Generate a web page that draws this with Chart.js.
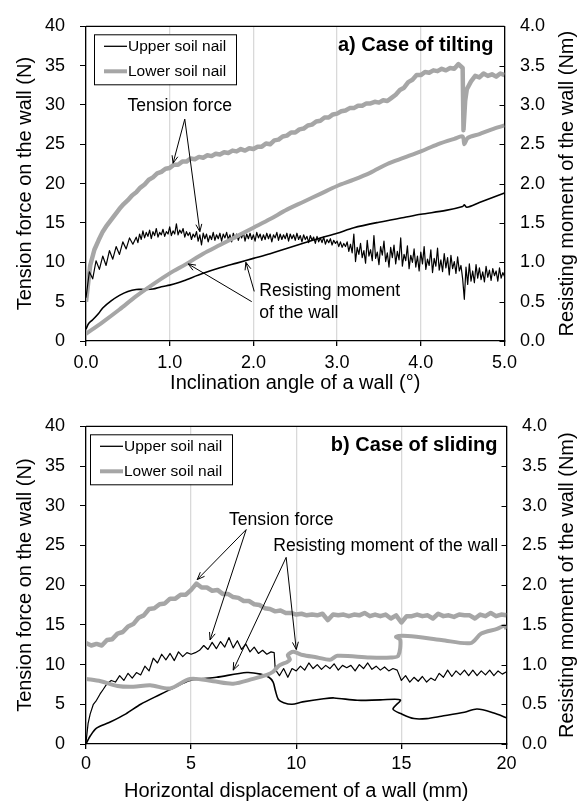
<!DOCTYPE html>
<html><head><meta charset="utf-8">
<script src="https://cdn.jsdelivr.net/npm/chart.js@4.4.0/dist/chart.umd.min.js"></script>
<style>
html,body{margin:0;padding:0;background:#fff;}
#wrap{position:relative;width:585px;height:804px;}
.box{position:absolute;left:0;width:585px;}
</style></head><body>
<div id="wrap">
<div class="box" style="top:0;height:400px"><canvas id="c1"></canvas></div>
<div class="box" style="top:400px;height:404px"><canvas id="c2"></canvas></div>
</div>
<script>
// ---------- labels ----------
const seriesNames = ['Upper soil nail', 'Lower soil nail'];
const tiltTitle = 'a) Case of tilting';
const slideTitle = 'b) Case of sliding';
const tiltXTitle = 'Inclination angle of a wall (\u00B0)';
const slideXTitle = 'Horizontal displacement of a wall (mm)';
const leftTitle = 'Tension force on the wall (N)';
const rightTitle = 'Resisting moment of the wall (Nm)';
const tiltXTicks = [0, 1, 2, 3, 4, 5];
const slideXTicks = [0, 5, 10, 15, 20];
const forceTicks = [0, 5, 10, 15, 20, 25, 30, 35, 40];
const momentTicks = [0, 0.5, 1, 1.5, 2, 2.5, 3, 3.5, 4];

// ---------- a) tilting : [angle (deg), value] ----------
const tiltUpperTension = [[0,5.5],[0.04,8.8],[0.08,7.9],[0.12,10.2],[0.16,9.1],[0.2,10.8],[0.24,9.6],[0.28,11.5],[0.32,10.4],[0.36,12.0],[0.4,11.0],[0.44,12.6],[0.48,11.7],[0.52,13.1],[0.56,12.3],
 [0.60,13.2],[0.62,12.5],[0.64,13.6],[0.66,12.9],[0.68,14.0],[0.70,13.1],[0.72,13.8],[0.74,13.3],[0.76,14.1],[0.78,13.0],[0.80,13.9],[0.82,13.4],[0.84,14.3],[0.86,13.2],[0.88,13.8],[0.90,13.5],[0.92,14.2],[0.94,13.3],[0.96,13.9],[0.98,13.6],[1.00,14.5],[1.02,13.4],[1.04,14.0],[1.06,13.6],[1.08,14.9],[1.10,13.5],[1.12,14.1],[1.14,13.7],[1.16,14.3],[1.18,13.2],[1.20,13.9],[1.22,13.4],[1.24,13.8],[1.26,12.9],[1.28,13.6],[1.30,13.2],[1.32,13.9],[1.34,12.7],[1.36,13.5],[1.38,12.2],[1.40,13.7],[1.42,13.0],[1.44,13.6],[1.46,12.6],[1.48,13.4],[1.50,12.9],[1.52,13.8],[1.54,12.8],[1.56,13.5],[1.58,13.0],[1.60,13.7],[1.62,12.7],[1.64,13.6],[1.66,13.1],[1.68,13.8],[1.70,12.9],[1.72,13.5],[1.74,12.6],[1.76,13.7],[1.78,13.0],[1.80,13.6],[1.82,12.8],[1.84,13.5],[1.86,13.1],[1.88,13.8],[1.90,12.7],[1.92,13.6],[1.94,13.0],[1.96,13.7],[1.98,12.9],[2.00,13.5],[2.02,12.7],[2.04,13.8],[2.06,13.1],[2.08,13.6],[2.10,12.8],[2.12,13.5],[2.14,12.9],[2.16,13.7],[2.18,13.0],[2.20,13.6],[2.22,12.6],[2.24,13.5],[2.26,13.1],[2.28,13.8],[2.30,12.8],[2.32,13.6],[2.34,12.9],[2.36,13.5],[2.38,13.0],[2.40,13.7],[2.42,12.7],[2.44,13.6],[2.46,13.0],[2.48,13.5],[2.50,12.8],[2.52,13.7],[2.54,12.9],[2.56,13.4],[2.58,12.6],[2.60,13.5],[2.62,12.9],[2.64,13.3],[2.66,12.5],[2.68,13.4],[2.70,12.8],[2.72,13.2],[2.74,12.4],[2.76,13.3],[2.78,12.6],[2.80,13.1],[2.82,12.5],[2.84,13.2],[2.86,12.3],[2.88,12.9],[2.90,12.5],[2.92,13.0],[2.94,12.2],[2.96,12.8],[2.98,12.4],[3.00,12.7],[3.02,12.0],[3.04,12.6],[3.06,11.9],[3.08,12.4],
 [3.10,12.0],[3.12,12.6],[3.14,11.4],[3.16,12.3],[3.18,11.2],[3.20,13.6],[3.22,10.1],[3.24,11.9],[3.26,11.0],[3.28,12.4],[3.30,10.6],[3.32,11.5],[3.34,9.9],[3.36,12.8],[3.38,10.8],[3.40,11.6],[3.42,10.2],[3.44,13.4],[3.46,10.5],[3.48,11.3],[3.50,9.7],[3.52,12.0],[3.54,10.9],[3.56,12.7],[3.58,10.1],[3.60,11.2],[3.62,9.4],[3.64,11.9],[3.66,10.6],[3.68,12.2],[3.70,9.8],[3.72,11.4],[3.74,10.3],[3.76,13.1],[3.78,9.5],[3.80,11.0],[3.82,10.2],[3.84,12.1],[3.86,9.2],[3.88,10.9],[3.90,10.0],[3.92,11.7],[3.94,9.4],[3.96,10.8],[3.98,8.9],[4.00,11.3],[4.02,9.8],[4.04,12.0],[4.06,9.1],[4.08,10.4],[4.10,9.6],[4.12,11.6],[4.14,8.7],[4.16,10.5],[4.18,9.5],[4.20,11.8],[4.22,9.0],[4.24,10.3],[4.26,8.8],[4.28,11.1],[4.30,9.3],[4.32,10.6],[4.34,8.4],[4.36,10.9],[4.38,9.2],[4.40,10.1],[4.42,8.6],[4.44,10.7],[4.46,8.9],[4.48,9.6],[4.50,7.9],[4.52,5.3],[4.54,9.4],[4.56,7.2],[4.58,9.8],[4.60,7.6],[4.62,8.9],[4.64,7.4],[4.66,9.7],[4.68,8.0],[4.70,9.3],[4.72,7.8],[4.74,8.8],[4.76,7.5],[4.78,9.5],[4.80,8.1],[4.82,9.0],[4.84,7.7],[4.86,9.2],[4.88,8.3],[4.90,8.9],[4.92,7.6],[4.94,9.3],[4.96,8.0],[4.98,8.7],[5.00,8.2]];
const tiltLowerTension = [[0,5.0],[0.05,9.6],[0.1,11.6],[0.15,12.8],[0.2,13.9],[0.25,14.7],[0.3,15.4],[0.35,16.1],[0.4,16.8],[0.45,17.4],[0.5,17.9],[0.55,18.5],[0.6,18.9],[0.65,19.5],[0.7,19.9],[0.75,20.5],[0.8,20.8],[0.85,21.3],[0.9,21.5],[0.95,21.9],[1.0,22.0],[1.05,22.4],[1.1,22.4],[1.15,22.8],[1.2,22.8],[1.25,23.2],[1.3,23.1],[1.35,23.4],[1.4,23.3],[1.45,23.6],[1.5,23.5],[1.55,23.8],[1.6,23.7],[1.65,24.0],[1.7,23.9],[1.75,24.2],[1.8,24.1],[1.85,24.4],[1.9,24.2],[1.95,24.5],[2.0,24.4],[2.05,24.7],[2.1,24.7],[2.15,25.1],[2.2,25.0],[2.25,25.5],[2.3,25.6],[2.35,26.0],[2.4,26.1],[2.45,26.5],[2.5,26.5],[2.55,26.9],[2.6,27.0],[2.65,27.4],[2.7,27.5],[2.75,27.9],[2.8,28.0],[2.85,28.4],[2.9,28.4],[2.95,28.8],[3.0,28.9],[3.05,29.2],[3.1,29.3],[3.15,29.6],[3.2,29.6],[3.25,29.9],[3.3,29.9],[3.35,30.2],[3.4,30.2],[3.45,30.4],[3.5,30.3],[3.55,30.6],[3.6,30.5],[3.65,30.9],[3.7,31.3],[3.75,31.9],[3.8,32.2],[3.85,32.9],[3.9,33.2],[3.95,33.8],[4.0,33.8],[4.05,34.2],[4.1,34.1],[4.15,34.4],[4.2,34.3],[4.25,34.6],[4.3,34.4],[4.35,34.7],[4.4,34.6],[4.45,35.2],[4.5,34.7],[4.51,26.8],[4.53,30.5],[4.55,32.0],[4.6,33.0],[4.65,33.7],[4.7,33.5],[4.75,34.0],[4.8,33.7],[4.85,33.9],[4.9,33.6],[4.95,34.0],[5.0,33.8]];
const tiltUpperMoment = [[0,0.15],[0.03,0.22],[0.08,0.27],[0.15,0.35],[0.2,0.42],[0.3,0.51],[0.4,0.58],[0.5,0.63],[0.6,0.655],[0.7,0.655],[0.8,0.66],[0.9,0.69],[1.0,0.71],[1.1,0.74],[1.2,0.78],[1.4,0.86],[1.6,0.93],[1.8,0.99],[2.0,1.05],[2.2,1.11],[2.5,1.21],[2.8,1.31],[3.0,1.37],[3.2,1.44],[3.5,1.51],[3.8,1.57],[4.0,1.61],[4.3,1.66],[4.5,1.71],[4.52,1.73],[4.55,1.70],[4.7,1.76],[5.0,1.88]];
const tiltLowerMoment = [[0,0.09],[0.2,0.24],[0.4,0.40],[0.6,0.57],[0.8,0.72],[1.0,0.86],[1.2,0.98],[1.4,1.11],[1.6,1.22],[1.8,1.33],[2.0,1.44],[2.2,1.55],[2.4,1.67],[2.6,1.77],[2.8,1.87],[3.0,1.97],[3.2,2.05],[3.4,2.14],[3.6,2.25],[3.8,2.33],[4.0,2.41],[4.2,2.50],[4.4,2.57],[4.5,2.60],[4.52,2.50],[4.56,2.58],[4.7,2.63],[4.85,2.69],[5.0,2.74]];

// ---------- b) sliding : [displacement (mm), value] ----------
const slideUpperTension = [[0,0.2],[0.1,2.6],[0.2,3.8],[0.35,5.0],[0.5,5.5],[0.67,6.3],[0.8,6.8],[1.0,7.6],[1.2,8.0],[1.4,7.8],[1.6,8.6],[1.8,8.0],[2.0,8.9],[2.2,8.3],[2.4,9.0],[2.6,8.7],[2.8,9.8],[3.0,9.2],[3.2,10.8],[3.4,10.2],[3.6,11.3],[3.8,10.6],[4.0,11.4],[4.2,10.5],[4.4,11.6],[4.6,11.0],[4.8,11.5],[5.0,11.3],[5.2,11.5],[5.4,11.8],[5.6,12.4],[5.8,11.9],[6.0,12.8],[6.2,12.0],[6.4,12.9],[6.6,12.2],[6.8,13.4],[7.0,12.1],[7.2,13.0],[7.4,11.9],[7.6,12.6],[7.8,11.6],[8.0,12.2],[8.2,11.4],[8.4,11.8],[8.6,11.3],[8.8,11.6],[8.95,11.5],[9.0,9.4],[9.2,8.6],[9.4,9.5],[9.6,8.4],[9.8,9.5],[10.0,9.2],[10.2,9.8],[10.4,9.3],[10.6,10.2],[10.8,9.5],[11.0,10.0],[11.2,9.4],[11.4,9.9],[11.6,9.5],[11.8,10.1],[12.0,9.3],[12.2,9.9],[12.4,9.6],[12.6,9.9],[12.8,9.2],[13.0,10.0],[13.2,9.5],[13.4,10.2],[13.6,9.4],[13.8,9.8],[14.0,9.3],[14.2,9.7],[14.4,9.2],[14.6,9.5],[14.8,9.3],[15.0,8.0],[15.2,8.6],[15.4,7.8],[15.6,8.4],[15.8,7.9],[16.0,8.5],[16.2,7.8],[16.4,8.3],[16.6,8.0],[16.8,8.9],[17.0,8.4],[17.2,9.3],[17.4,8.5],[17.6,9.2],[17.8,8.7],[18.0,9.3],[18.2,8.6],[18.4,9.3],[18.6,8.6],[18.8,9.2],[19.0,8.7],[19.2,9.3],[19.4,8.6],[19.6,9.2],[19.8,8.8],[20.0,9.1]];
const slideLowerTension = [[0,12.7],[0.25,12.4],[0.5,12.6],[0.75,12.4],[1.0,13.1],[1.25,13.2],[1.5,13.9],[1.75,14.1],[2.0,14.8],[2.25,15.1],[2.5,15.9],[2.75,16.2],[3.0,17.0],[3.25,17.1],[3.5,17.6],[3.75,17.7],[4.0,18.3],[4.25,18.3],[4.5,18.8],[4.75,18.8],[5.0,19.4],[5.25,20.2],[5.5,19.7],[5.75,19.7],[6.0,19.3],[6.25,19.4],[6.5,18.9],[6.75,18.9],[7.0,18.5],[7.25,18.4],[7.5,18.0],[7.75,18.0],[8.0,17.6],[8.25,17.5],[8.5,17.1],[8.75,17.0],[9.0,16.7],[9.25,16.8],[9.5,16.5],[9.75,16.5],[10.0,16.3],[10.25,16.4],[10.5,16.2],[10.75,16.3],[11.0,16.2],[11.25,16.4],[11.5,15.6],[11.75,16.3],[12.0,16.2],[12.25,16.3],[12.5,16.1],[12.75,16.3],[13.0,16.2],[13.25,16.5],[13.5,16.1],[13.75,16.3],[14.0,16.1],[14.25,16.3],[14.5,15.8],[14.75,16.2],[15.0,15.3],[15.25,16.1],[15.5,16.1],[15.75,16.3],[16.0,16.1],[16.25,16.2],[16.5,15.8],[16.75,16.4],[17.0,16.1],[17.25,16.2],[17.5,16.0],[17.75,16.3],[18.0,16.2],[18.25,16.2],[18.5,15.8],[18.75,16.3],[19.0,16.1],[19.25,16.5],[19.5,16.1],[19.75,16.3],[20.0,16.2]];
const slideUpperMoment = [[0,0.0],[0.2,0.1],[0.5,0.2],[1.1,0.27],[1.9,0.38],[2.6,0.5],[3.5,0.62],[4.2,0.71],[4.95,0.8],[6.2,0.84],[7.65,0.9],[8.3,0.88],[8.7,0.84],[8.9,0.78],[9.0,0.68],[9.15,0.56],[9.4,0.52],[9.8,0.50],[10.3,0.53],[11.3,0.57],[11.8,0.58],[12.9,0.55],[14.0,0.555],[14.95,0.555],[14.6,0.44],[15.0,0.38],[15.6,0.32],[16.2,0.32],[16.9,0.35],[18.0,0.40],[18.6,0.44],[19.4,0.39],[20.0,0.33]];
const slideLowerMoment = [[0,0.82],[0.7,0.79],[1.5,0.73],[2.25,0.72],[3.05,0.74],[4.0,0.70],[4.95,0.82],[6.05,0.79],[7.0,0.76],[7.95,0.82],[8.6,0.87],[8.9,0.91],[9.2,0.99],[9.55,1.03],[9.7,1.06],[9.6,1.12],[9.86,1.16],[10.3,1.12],[11.0,1.09],[11.6,1.06],[11.95,1.11],[13.5,1.09],[14.5,1.09],[14.85,1.11],[14.95,1.31],[14.75,1.35],[15.3,1.36],[16.9,1.31],[18.3,1.27],[18.8,1.39],[19.55,1.45],[19.9,1.49],[20.0,1.45]];

// ---------- annotations (data units: x, left-axis N) ----------
const tiltNotes = [['Tension force', 1.12, 29.9, 'center'], ['Resisting moment', 2.07, 6.3, 'left'], ['of the wall', 2.07, 3.6, 'left']];
const tiltArrows = [[1.18, 28.2, 1.04, 22.6], [1.18, 28.2, 1.36, 13.9], [1.98, 5.0, 1.22, 9.8], [2.01, 6.3, 1.91, 10.0]];
const slideNotes = [['Tension force', 9.29, 28.2, 'center'], ['Resisting moment of the wall', 19.6, 24.9, 'right']];
const slideArrows = [[7.62, 27.0, 5.29, 20.7], [7.62, 27.0, 5.9, 13.1], [9.52, 23.5, 7.0, 9.3], [9.52, 23.5, 10.0, 11.9]];

// ---------- drawing ----------
const FONT = '"Liberation Sans", Arial, sans-serif';
const GRAY = '#a6a6a6';
const pts = a => a.map(p => ({x: p[0], y: p[1]}));

function arrow(ctx, x1, y1, x2, y2) {
  const a = Math.atan2(y2 - y1, x2 - x1), L = 8, w = 0.38;
  ctx.beginPath();
  ctx.moveTo(x1, y1); ctx.lineTo(x2, y2);
  ctx.moveTo(x2 - L * Math.cos(a - w), y2 - L * Math.sin(a - w));
  ctx.lineTo(x2, y2);
  ctx.lineTo(x2 - L * Math.cos(a + w), y2 - L * Math.sin(a + w));
  ctx.stroke();
}

function build(id, o) {
  const extras = {
    id: 'extras' + id,
    afterDraw(chart) {
      const ctx = chart.ctx, ca = chart.chartArea;
      const sx = chart.scales.x, sy = chart.scales.y, sr = chart.scales.y1;
      ctx.save();
      // top frame line
      ctx.strokeStyle = '#000'; ctx.lineWidth = 1.3;
      ctx.beginPath(); ctx.moveTo(ca.left, ca.top); ctx.lineTo(ca.right, ca.top); ctx.stroke();
      // inward ticks on right axis
      ctx.lineWidth = 1;
      momentTicks.forEach(v => {
        const py = Math.round(sr.getPixelForValue(v)) + 0.5;
        ctx.beginPath(); ctx.moveTo(ca.right - 5, py); ctx.lineTo(ca.right, py); ctx.stroke();
      });
      // right axis title, reading bottom-to-top
      ctx.fillStyle = '#000'; ctx.font = '20px ' + FONT; ctx.textAlign = 'center'; ctx.textBaseline = 'middle';
      ctx.save();
      ctx.translate(chart.width - 18, (ca.top + ca.bottom) / 2);
      ctx.rotate(-Math.PI / 2);
      ctx.fillText(rightTitle, 0, 0);
      ctx.restore();
      // annotations
      ctx.font = '17.6px ' + FONT;
      o.notes.forEach(n => { ctx.textAlign = n[3]; ctx.fillText(n[0], sx.getPixelForValue(n[1]), sy.getPixelForValue(n[2])); });
      ctx.lineWidth = 1;
      o.arrows.forEach(a => arrow(ctx, sx.getPixelForValue(a[0]), sy.getPixelForValue(a[1]), sx.getPixelForValue(a[2]), sy.getPixelForValue(a[3])));
      // panel title
      ctx.font = 'bold 20px ' + FONT; ctx.textAlign = 'right';
      ctx.fillText(o.title, ca.right - o.titleDx, ca.top + 19);
      // legend
      const lx = ca.left + o.legDx, ly = ca.top + 8;
      ctx.fillStyle = '#fff'; ctx.fillRect(lx, ly, 142, 50);
      ctx.strokeStyle = '#000'; ctx.lineWidth = 1; ctx.strokeRect(lx + 0.5, ly + 0.5, 142, 50);
      ctx.font = '15.5px ' + FONT; ctx.textAlign = 'left'; ctx.fillStyle = '#000';
      [[1.3, '#000'], [4, GRAY]].forEach((s, i) => {
        const yy = ly + 12 + i * 25;
        ctx.strokeStyle = s[1]; ctx.lineWidth = s[0];
        ctx.beginPath(); ctx.moveTo(lx + 10, yy); ctx.lineTo(lx + 33, yy); ctx.stroke();
        ctx.fillText(seriesNames[i], lx + 34, yy);
      });
      ctx.restore();
    }
  };
  const tickFont = {family: FONT, size: 18};
  const titleFont = {family: FONT, size: 20};
  const noisy = {tension: 0};
  const smooth = {tension: 0.3};
  return new Chart(document.getElementById(id), {
    type: 'scatter',
    data: {datasets: [
      Object.assign({label: seriesNames[1] + ' moment', data: pts(o.lowerMoment), yAxisID: 'y1', borderColor: GRAY, borderWidth: 4}, smooth),
      Object.assign({label: seriesNames[0] + ' tension', data: pts(o.upperTension), yAxisID: 'y', borderColor: '#000', borderWidth: 1.2}, noisy),
      Object.assign({label: seriesNames[1] + ' tension', data: pts(o.lowerTension), yAxisID: 'y', borderColor: GRAY, borderWidth: 4.5}, noisy),
      Object.assign({label: seriesNames[0] + ' moment', data: pts(o.upperMoment), yAxisID: 'y1', borderColor: '#000', borderWidth: 1.6}, smooth)
    ].map(d => Object.assign(d, {showLine: true, pointRadius: 0, pointHoverRadius: 0, fill: false, borderJoinStyle: 'round', borderCapStyle: 'butt'}))},
    options: {
      responsive: true, maintainAspectRatio: false, animation: false, devicePixelRatio: 1,
      layout: {padding: {top: o.top, left: 0, right: 0, bottom: 0}},
      plugins: {legend: {display: false}, tooltip: {enabled: false}},
      scales: {
        x: {type: 'linear', min: o.xTicks[0], max: o.xTicks[o.xTicks.length - 1],
            afterFit: s => { s.height = o.xh; },
            afterBuildTicks: s => { s.ticks = o.xTicks.map(v => ({value: v})); },
            ticks: {font: tickFont, color: '#000', padding: o.xpad, maxRotation: 0, autoSkip: false, callback: o.xfmt},
            grid: {color: '#d9d9d9', lineWidth: 1.3, tickColor: '#000', tickLength: 5, drawTicks: true},
            border: {color: '#000', width: 1.3},
            title: {display: true, text: o.xTitle, font: titleFont, color: '#000', padding: {top: 0, bottom: o.xtpad}}},
        y: {position: 'left', min: 0, max: 40,
            afterFit: s => { s.width = 86; },
            afterBuildTicks: s => { s.ticks = forceTicks.map(v => ({value: v})); },
            ticks: {font: tickFont, color: '#000', padding: 15},
            grid: {drawOnChartArea: false, tickLength: 6, tickColor: '#000', color: '#000'},
            border: {color: '#000', width: 1.3},
            title: {display: true, text: leftTitle, font: titleFont, color: '#000', padding: {top: 13.5, bottom: 0}}},
        y1: {position: 'right', min: 0, max: 4,
            afterFit: s => { s.width = o.rw; },
            afterBuildTicks: s => { s.ticks = momentTicks.map(v => ({value: v})); },
            ticks: {font: tickFont, color: '#000', padding: 15.5, callback: v => v.toFixed(1)},
            grid: {drawOnChartArea: false, drawTicks: false},
            border: {color: '#000', width: 1.3},
            title: {display: false}}
      }
    },
    plugins: [extras]
  });
}

build('c1', {upperTension: tiltUpperTension, lowerTension: tiltLowerTension, upperMoment: tiltUpperMoment, lowerMoment: tiltLowerMoment,
  xTicks: tiltXTicks, xfmt: v => v.toFixed(1), xTitle: tiltXTitle, notes: tiltNotes, arrows: tiltArrows, title: tiltTitle,
  top: 16, xh: 59, rw: 80.5, xpad: 6, xtpad: 4.4, titleDx: 11, legDx: 8});
build('c2', {upperTension: slideUpperTension, lowerTension: slideLowerTension, upperMoment: slideUpperMoment, lowerMoment: slideLowerMoment,
  xTicks: slideXTicks, xfmt: v => String(v), xTitle: slideXTitle, notes: slideNotes, arrows: slideArrows, title: slideTitle,
  top: 16.7, xh: 60, rw: 78.5, xpad: 4.5, xtpad: 0.4, titleDx: 9, legDx: 4});
</script>
</body></html>
